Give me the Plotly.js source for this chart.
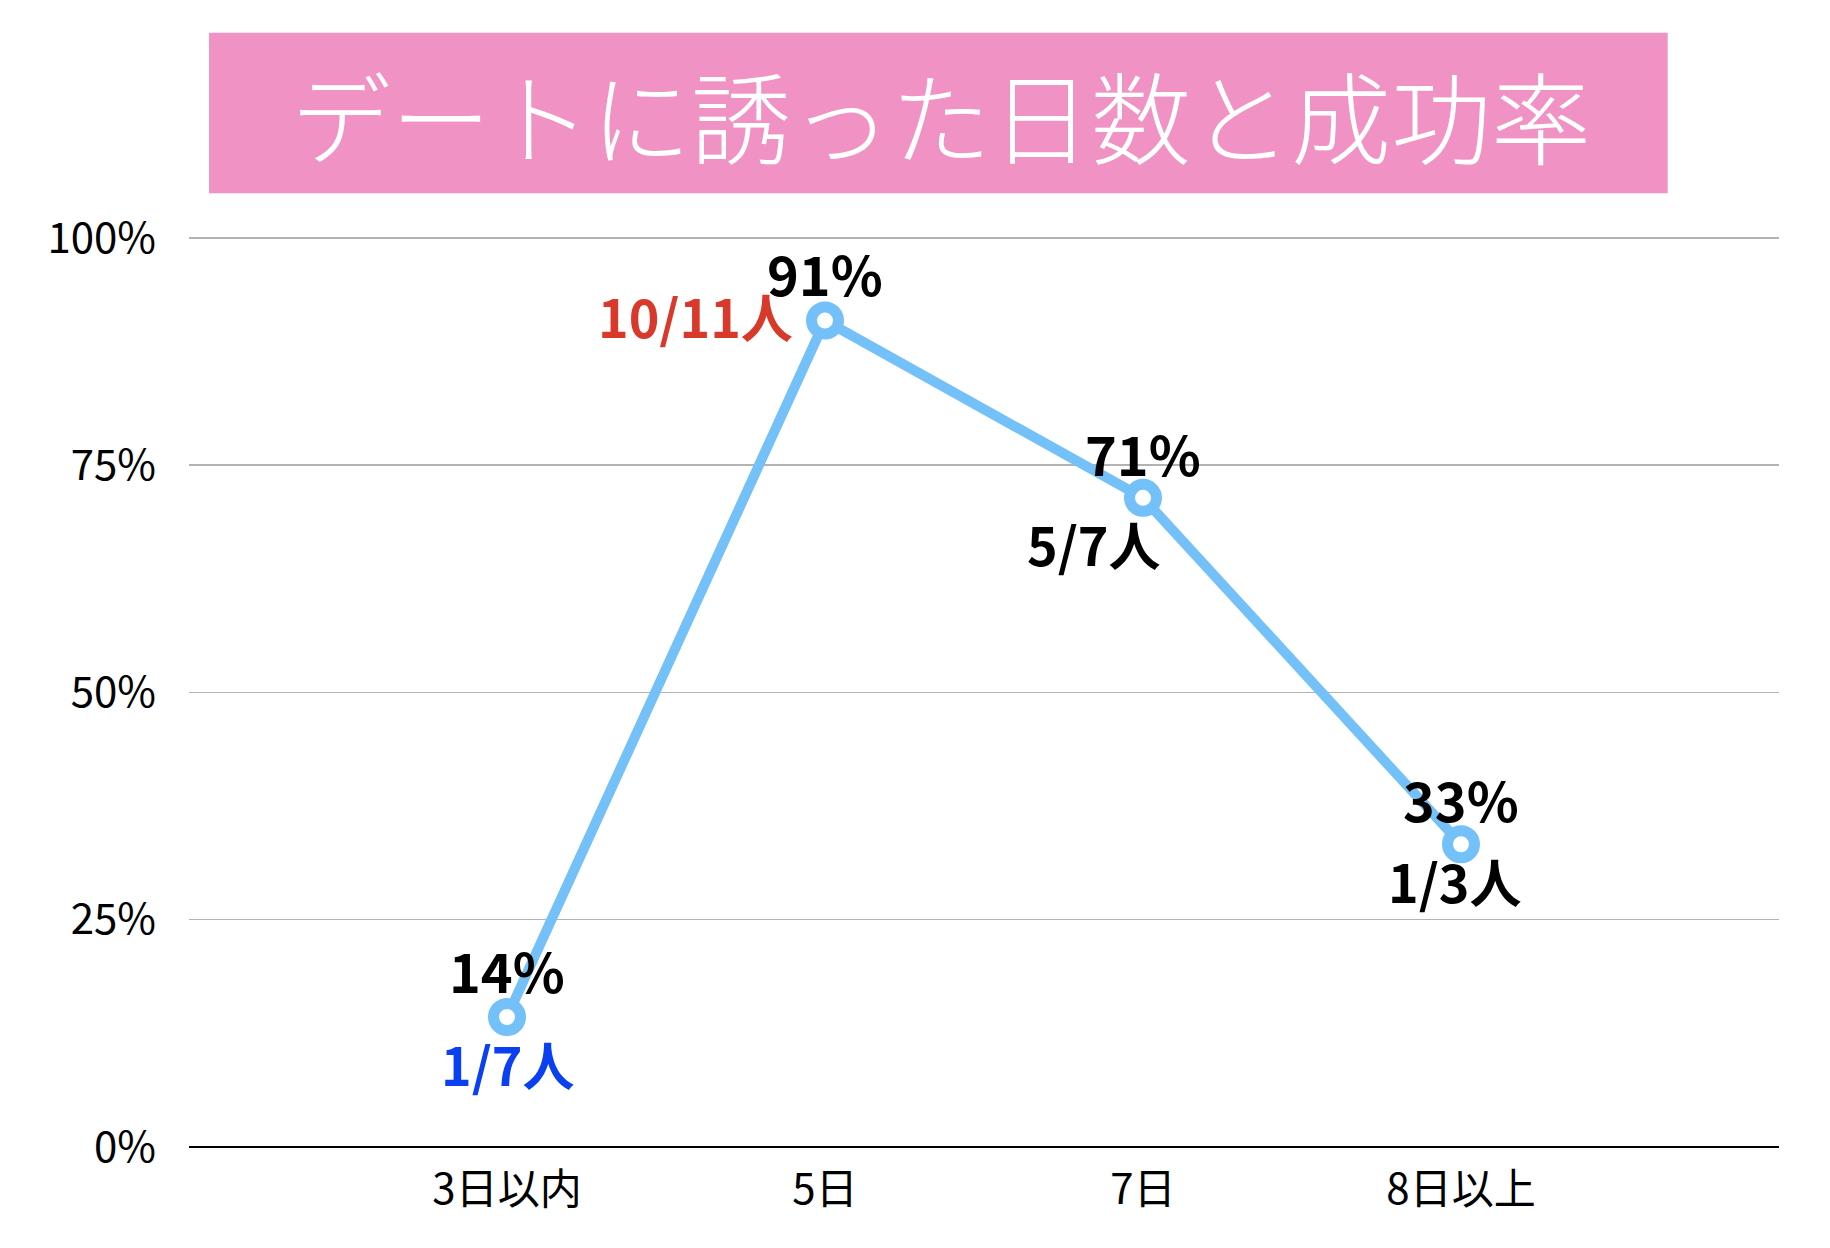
<!DOCTYPE html>
<html>
<head>
<meta charset="utf-8">
<script src="https://cdn.plot.ly/plotly-3.0.1.min.js"></script>
<style>html,body{margin:0;padding:0;background:#fff;}#chart{width:1830px;height:1248px;}</style>
</head>
<body>
<div id="chart"></div>
<script>
// ---- data ----
const chartTitle = 'デートに誘った日数と成功率';
const categories = ['3日以内', '5日', '7日', '8日以上'];
const successRate = [0.143, 0.909, 0.714, 0.333];
const rateLabels = ['14%', '91%', '71%', '33%'];
const countLabels = ['1/7人', '10/11人', '5/7人', '1/3人'];
const yTickVals = [0, 0.25, 0.5, 0.75, 1];
const yTickText = ['0%', '25%', '50%', '75%', '100%'];

// ---- styles ----
const FONT = '"Noto Sans CJK JP", "Noto Sans", sans-serif';
const lineColor = '#74c0f8';
const countColors = ['#0a40f2', '#d9392a', '#000000', '#000000'];
const countStyle = [
  {xanchor: 'center', xshift: 0, yshift: -47},
  {xanchor: 'right', xshift: -30, yshift: 5},
  {xanchor: 'center', xshift: -50, yshift: -46},
  {xanchor: 'center', xshift: -7, yshift: -36}
];
const rateShift = [47, 48, 45, 46];

const annotations = [];
categories.forEach((c, i) => {
  annotations.push({
    x: c, y: successRate[i], xref: 'x', yref: 'y', showarrow: false,
    text: rateLabels[i], yshift: rateShift[i], xanchor: 'center', yanchor: 'middle',
    font: {family: FONT, size: 54, color: '#000', weight: 'bold'}
  });
  annotations.push({
    x: c, y: successRate[i], xref: 'x', yref: 'y', showarrow: false,
    text: countLabels[i], xanchor: countStyle[i].xanchor, yanchor: 'middle',
    xshift: countStyle[i].xshift, yshift: countStyle[i].yshift,
    font: {family: FONT, size: 52, color: countColors[i], weight: 'bold'}
  });
});
annotations.push({
  x: 0.473, y: 1.135, xref: 'paper', yref: 'paper', showarrow: false,
  text: chartTitle, xanchor: 'center', yanchor: 'middle',
  font: {family: FONT, size: 100, color: '#ffffff', weight: 300}
});

const trace = {
  x: categories, y: successRate, type: 'scatter', mode: 'lines+markers',
  line: {color: lineColor, width: 10},
  marker: {size: 27, color: '#ffffff', line: {color: lineColor, width: 11}},
  cliponaxis: false, hoverinfo: 'skip'
};

const layout = {
  width: 1830, height: 1248,
  margin: {l: 189, r: 51, t: 236, b: 101},
  paper_bgcolor: '#ffffff', plot_bgcolor: '#ffffff',
  showlegend: false,
  font: {family: FONT, color: '#000'},
  xaxis: {
    type: 'category', range: [-1, 4], showgrid: false, showline: false, zeroline: false,
    ticks: '', ticklabelstandoff: 14, tickfont: {family: FONT, size: 42, color: '#000'},
    fixedrange: true
  },
  yaxis: {
    range: [0, 1.002], tickvals: yTickVals, ticktext: yTickText,
    showgrid: true, gridcolor: '#b3b3b3', gridwidth: 1.5,
    zeroline: true, zerolinecolor: '#000000', zerolinewidth: 2.5,
    showline: false, ticks: '', ticklabelstandoff: 32,
    tickfont: {family: FONT, size: 42, color: '#000'}, fixedrange: true
  },
  shapes: [{
    type: 'rect', xref: 'paper', yref: 'paper',
    x0: 0.0126, x1: 0.930, y0: 1.047, y1: 1.223,
    fillcolor: '#f093c4', line: {width: 0}, layer: 'below'
  }],
  annotations: annotations
};

Plotly.newPlot('chart', [trace], layout, {staticPlot: true, displayModeBar: false});
</script>
</body>
</html>
